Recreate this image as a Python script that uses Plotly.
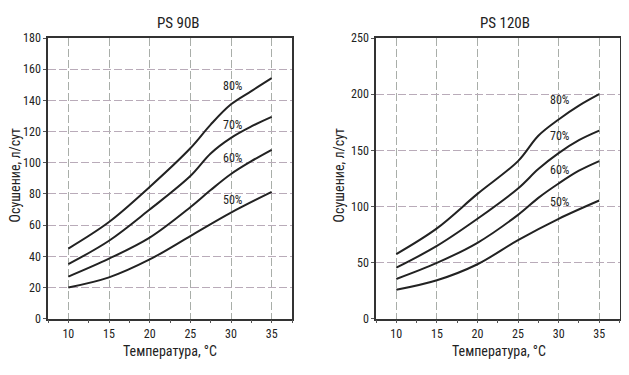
import plotly.graph_objects as go

# ---- data ----
x_fine = [10, 15, 20, 25, 27.5, 30, 32.5, 35]
x_coarse = [10, 15, 20, 25, 30, 35]

ps90_80 = [45, 62, 84.5, 109.3, 124.5, 137.5, 146, 154.3]
ps90_70 = [35, 50, 70, 91.5, 106, 116, 123.3, 129.4]
ps90_60 = [27, 38.5, 52, 71.5, 82.5, 92.8, 101, 108.3]
ps90_50 = [20, 26.5, 38, 53, 68, 81.3]

ps120_80 = [57.6, 80.5, 111.2, 140.4, 163, 177.5, 189.8, 200]
ps120_70 = [45.4, 64.8, 89, 116, 133.3, 147.5, 159, 167.5]
ps120_60 = [35.4, 49.7, 67.6, 92.5, 107.6, 120.4, 131.8, 140.4]
ps120_50 = [25.7, 34.2, 48.5, 70, 89, 105.3]

labels = ["80%", "70%", "60%", "50%"]
ps90_label_y = [149.5, 124, 103, 76]
ps120_label_y = [194.6, 163, 132.7, 103.9]
label_x = 30.2

titles = ["PS 90B", "PS 120B"]
x_title = "Температура, °C"
y_title = "Осушение, л/сут"
x_ticks = [10, 15, 20, 25, 30, 35]
y_ticks_90 = list(range(0, 181, 20))
y_ticks_120 = list(range(0, 251, 50))

FONT = "Liberation Sans Narrow, Arial Narrow, Roboto Condensed, Liberation Sans, sans-serif"
LINE = "#222222"
TXT = "#222222"

# page body has an 8px default margin on every side; size the figure to fit inside it
OFF = 8
W, H = 629 - 2 * OFF, 375 - 2 * OFF


def px(xp):
    return (xp - OFF) / W


def py(yp):
    return 1 - (yp - OFF) / H


fig = go.Figure()

series90 = [(x_fine, ps90_80), (x_fine, ps90_70), (x_fine, ps90_60), (x_coarse, ps90_50)]
series120 = [(x_fine, ps120_80), (x_fine, ps120_70), (x_fine, ps120_60), (x_coarse, ps120_50)]

for xs, ys in series90:
    fig.add_trace(go.Scatter(x=xs, y=ys, mode="lines", line=dict(color=LINE, width=2, shape="spline", smoothing=1.0),
                             xaxis="x", yaxis="y", showlegend=False, hoverinfo="skip"))
for xs, ys in series120:
    fig.add_trace(go.Scatter(x=xs, y=ys, mode="lines", line=dict(color=LINE, width=2, shape="spline", smoothing=1.0),
                             xaxis="x2", yaxis="y2", showlegend=False, hoverinfo="skip"))

dom_y = [py(324), py(32)]
dom_x1 = [px(48), px(292)]
dom_x2 = [px(376), px(619.5)]

common_x = dict(range=[7.5, 37.5], tickvals=x_ticks, showgrid=True, gridcolor="#a9aea9", griddash="8px,3px",
                gridwidth=1, showline=True, linecolor="#333333", linewidth=1.5, mirror=True,
                ticks="outside", ticklen=3, tickcolor="#555555", zeroline=False,
                minor=dict(dtick=2.5, tick0=0, ticks="outside", ticklen=3, tickcolor="#555555", showgrid=False),
                tickfont=dict(family=FONT, size=12, color=TXT), fixedrange=True)
common_y = dict(showgrid=True, gridcolor="#b9abb9", griddash="8px,3px", gridwidth=1,
                showline=True, linecolor="#333333", linewidth=1.5, mirror=True,
                ticks="outside", ticklen=3, tickcolor="#555555", zeroline=False,
                tickfont=dict(family=FONT, size=12, color=TXT), fixedrange=True)

fig.update_layout(
    width=W, height=H, margin=dict(l=0, r=0, t=0, b=0, pad=0),
    paper_bgcolor="white", plot_bgcolor="white",
    font=dict(family=FONT, color=TXT),
    xaxis=dict(domain=dom_x1, anchor="y", **common_x),
    yaxis=dict(domain=dom_y, anchor="x", range=[0, 180], tickvals=y_ticks_90, **common_y),
    xaxis2=dict(domain=dom_x2, anchor="y2", **common_x),
    yaxis2=dict(domain=dom_y, anchor="x2", range=[0, 250], tickvals=y_ticks_120, **common_y),
)

ann = []
for lab, yv in zip(labels, ps90_label_y):
    ann.append(dict(x=label_x, y=yv, xref="x", yref="y", text=lab, showarrow=False,
                    xanchor="center", yanchor="middle", font=dict(family=FONT, size=12, color=TXT)))
for lab, yv in zip(labels, ps120_label_y):
    ann.append(dict(x=label_x, y=yv, xref="x2", yref="y2", text=lab, showarrow=False,
                    xanchor="center", yanchor="middle", font=dict(family=FONT, size=12, color=TXT)))


def paper_text(xp, yp, text, size, angle=0):
    return dict(x=px(xp), y=py(yp), xref="paper", yref="paper", text=text, showarrow=False,
                xanchor="center", yanchor="middle", textangle=angle,
                font=dict(family=FONT, size=size, color=TXT))


ann.append(paper_text(178, 16, titles[0], 15))
ann.append(paper_text(505, 16, titles[1], 15))
ann.append(paper_text(170, 358, x_title, 14))
ann.append(paper_text(499, 358, x_title, 14))
ann.append(paper_text(15, 175, y_title, 14, -90))
ann.append(paper_text(339, 175, y_title, 14, -90))

fig.update_layout(annotations=ann)
fig.write_html("out.html")
